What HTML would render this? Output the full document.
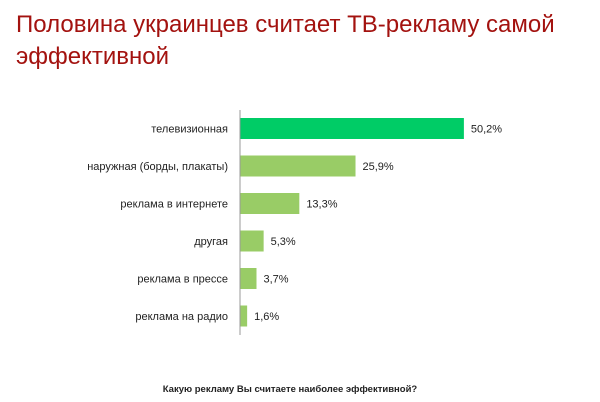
<!DOCTYPE html>
<html><head><meta charset="utf-8"><style>
body{margin:0;width:600px;height:402px;background:#fff;overflow:hidden;font-family:"Liberation Sans",sans-serif}
.t{position:absolute;left:16px;top:9px;font-size:24px;line-height:32px;color:#a3120f;width:590px}
</style></head><body>
<div class="t">Половина украинцев считает ТВ-рекламу самой эффективной</div>
<svg id="c" width="600" height="402" style="position:absolute;left:0;top:0"></svg>
<script>
const categories=["телевизионная","наружная (борды, плакаты)","реклама в интернете","другая","реклама в прессе","реклама на радио"];
const values=[50.2,25.9,13.3,5.3,3.7,1.6];
const valueLabels=["50,2%","25,9%","13,3%","5,3%","3,7%","1,6%"];
const ns="http://www.w3.org/2000/svg",svg=document.getElementById('c');
const x0=240,k=4.46,y0=110,step=37.5,bh=21;
const x=v=>x0+v*k, yc=i=>y0+18.5+i*step;
function mk(t,a){const e=document.createElementNS(ns,t);for(const n in a)e.setAttribute(n,a[n]);svg.appendChild(e);return e;}
categories.forEach((c,i)=>{
 const r=mk('rect',{x:x0,y:yc(i)-bh/2,width:x(values[i])-x0,height:bh,fill:i==0?'#00cc66':'#99cc66'});
 
 
 const l=mk('text',{x:228,y:yc(i)+4,'text-anchor':'end','font-size':11,fill:'#222'});l.textContent=c;
 
 
 const v=mk('text',{x:x(values[i])+7,y:yc(i)+4,'font-size':11,fill:'#222'});v.textContent=valueLabels[i];
 
 
});
const ax=mk('line',{x1:x0,x2:x0,y1:y0,y2:335,stroke:'#999','stroke-width':1});


const f=mk('text',{x:290,y:392,'text-anchor':'middle','font-size':9.5,'font-weight':'bold',fill:'#222'});
f.textContent='Какую рекламу Вы считаете наиболее эффективной?';


</script>
</body></html>
